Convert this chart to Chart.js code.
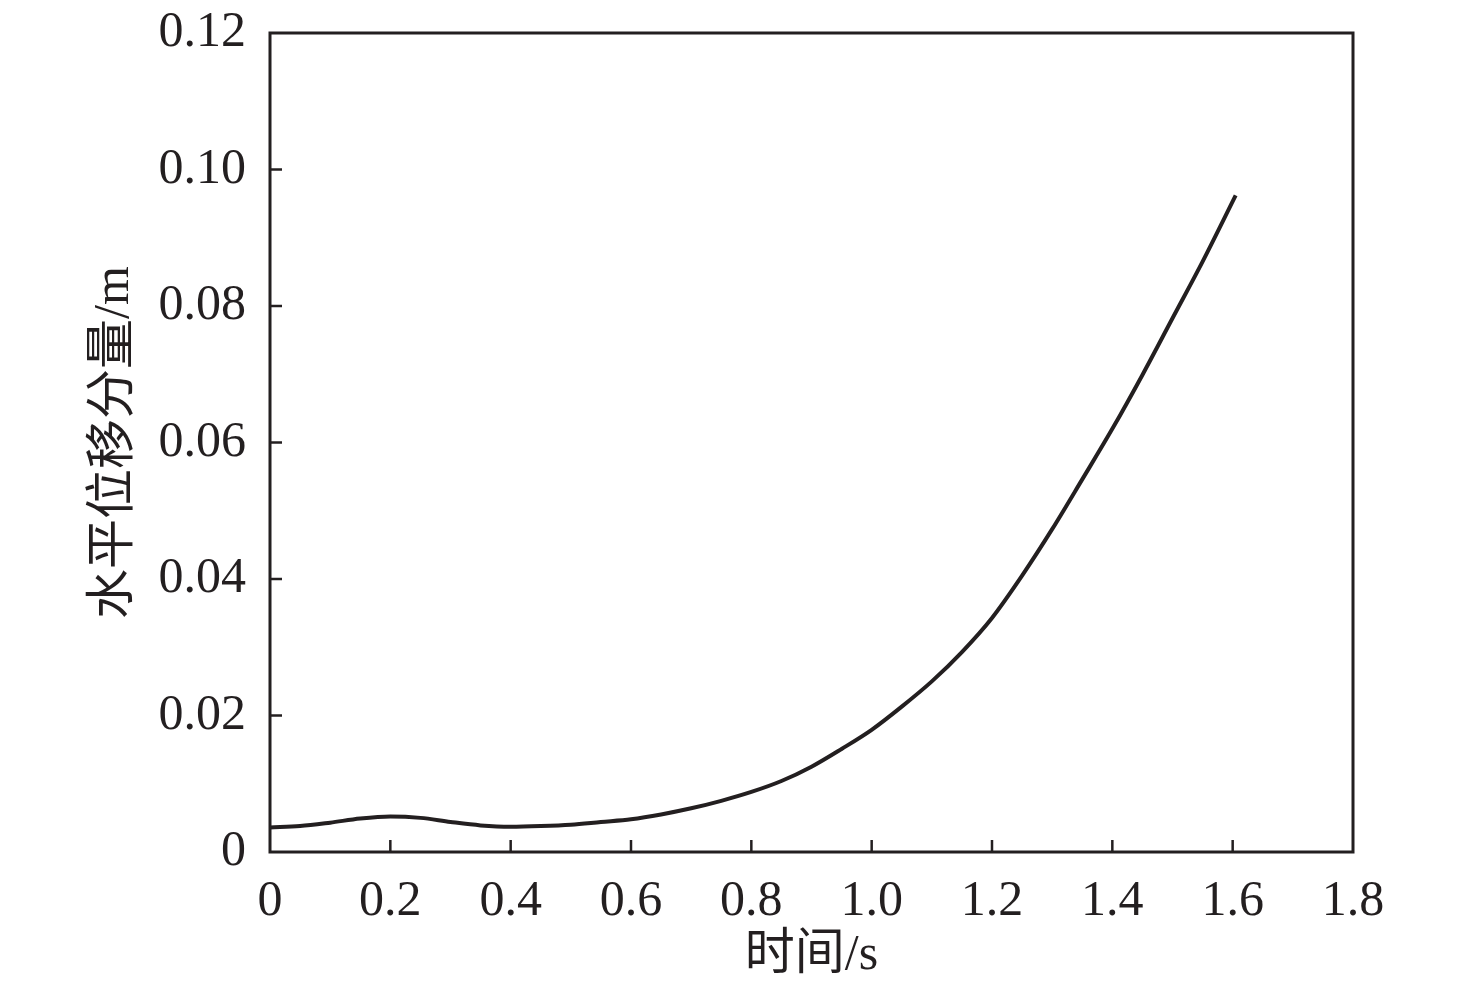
<!DOCTYPE html>
<html>
<head>
<meta charset="utf-8">
<script src="https://cdn.jsdelivr.net/npm/chart.js@4/dist/chart.umd.min.js"></script>
<style>
  html, body { margin: 0; padding: 0; background: #fff; }
  #wrap { width: 1476px; height: 996px; }
</style>
</head>
<body>
<div id="wrap"><canvas id="myChart" width="1476" height="996"></canvas></div>
<script>
// time (s) and horizontal displacement (m)
const timeValues = [0, 0.05, 0.1, 0.15, 0.2, 0.25, 0.3, 0.35, 0.4, 0.45, 0.5, 0.55, 0.6, 0.65, 0.7, 0.75, 0.8, 0.85, 0.9, 0.95, 1.0, 1.05, 1.1, 1.15, 1.2, 1.25, 1.3, 1.35, 1.4, 1.45, 1.5, 1.55, 1.605];
const dispValues = [0.0036, 0.0038, 0.0043, 0.0049, 0.0052, 0.0050, 0.0044, 0.0039, 0.0037, 0.0038, 0.0040, 0.0044, 0.0048, 0.0055, 0.0064, 0.0075, 0.0088, 0.0104, 0.0125, 0.0151, 0.0179, 0.0213, 0.0250, 0.0293, 0.0343, 0.0405, 0.0473, 0.0546, 0.0620, 0.0699, 0.0782, 0.0865, 0.0962];
const xTicks = [0, 0.2, 0.4, 0.6, 0.8, 1.0, 1.2, 1.4, 1.6, 1.8];
const yTicks = [0, 0.02, 0.04, 0.06, 0.08, 0.10, 0.12];
const xTitle = "时间/s";
const yTitle = "水平位移分量/m";

const ink = "#231f20";
const fontFamily = "'Liberation Serif', 'Noto Sans CJK SC', serif";

// frame + inward tick marks
const framePlugin = {
  id: "frame",
  afterDraw(chart) {
    const { ctx, chartArea: a, scales } = chart;
    ctx.save();
    ctx.strokeStyle = ink;
    ctx.lineWidth = 3;
    ctx.strokeRect(a.left, a.top, a.right - a.left, a.bottom - a.top);
    ctx.lineWidth = 2.5;
    const len = 12;
    xTicks.slice(1, -1).forEach((v) => {
      const px = scales.x.getPixelForValue(v);
      ctx.beginPath();
      ctx.moveTo(px, a.bottom);
      ctx.lineTo(px, a.bottom - len);
      ctx.stroke();
    });
    yTicks.slice(1, -1).forEach((v) => {
      const py = scales.y.getPixelForValue(v);
      ctx.beginPath();
      ctx.moveTo(a.left, py);
      ctx.lineTo(a.left + len, py);
      ctx.stroke();
    });
    ctx.restore();
  },
};

new Chart("myChart", {
  type: "line",
  data: {
    datasets: [
      {
        data: timeValues.map((t, i) => ({ x: t, y: dispValues[i] })),
        borderColor: ink,
        borderWidth: 4,
        pointRadius: 0,
        fill: false,
        cubicInterpolationMode: "monotone",
      },
    ],
  },
  options: {
    responsive: false,
    animation: false,
    layout: { padding: { top: 33, right: 123, left: 0, bottom: 0 } },
    plugins: { legend: { display: false }, tooltip: { enabled: false } },
    scales: {
      x: {
        type: "linear",
        min: 0,
        max: 1.8,
        afterBuildTicks(scale) {
          scale.ticks = xTicks.map((v) => ({ value: v }));
        },
        afterFit(scale) {
          scale.height = 144;
          scale.paddingLeft = 0;
          scale.paddingRight = 0;
        },
        grid: { display: false, drawTicks: false },
        border: { display: false },
        ticks: {
          color: ink,
          padding: 20,
          maxRotation: 0,
          font: { family: fontFamily, size: 50 },
          callback: (v) => (v === 0 ? "0" : v.toFixed(1)),
        },
        title: {
          display: true,
          text: xTitle,
          color: ink,
          padding: { top: 0, bottom: 10 },
          font: { family: fontFamily, size: 50 },
        },
      },
      y: {
        type: "linear",
        min: 0,
        max: 0.12,
        afterBuildTicks(scale) {
          scale.ticks = yTicks.map((v) => ({ value: v }));
        },
        afterFit(scale) {
          scale.width = 270;
          scale.paddingTop = 0;
          scale.paddingBottom = 0;
        },
        grid: { display: false, drawTicks: false },
        border: { display: false },
        ticks: {
          color: ink,
          padding: 24,
          font: { family: fontFamily, size: 50 },
          callback: (v) => (v === 0 ? "0" : v.toFixed(2)),
        },
        title: {
          display: true,
          text: yTitle,
          color: ink,
          padding: { top: 85, bottom: 0 },
          font: { family: fontFamily, size: 50 },
        },
      },
    },
  },
  plugins: [framePlugin],
});
</script>
</body>
</html>
